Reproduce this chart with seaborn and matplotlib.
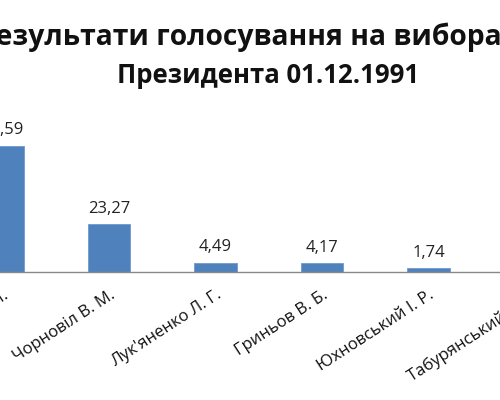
import matplotlib
matplotlib.use("Agg")
import matplotlib.pyplot as plt
import seaborn as sns
import pandas as pd

candidates = ["Кравчук Л. М.", "Чорновіл В. М.", "Лук'яненко Л. Г.",
              "Гриньов В. Б.", "Юхновський І. Р.", "Табурянський Л. Л."]
votes = [61.59, 23.27, 4.49, 4.17, 1.74, 0.57]
title_1 = "Результати голосування на виборах"
title_2 = "Президента 01.12.1991"

sns.set_theme(style="white")
plt.rcParams["font.family"] = ["Open Sans", "DejaVu Sans"]

df = pd.DataFrame({"candidate": candidates, "votes": votes})

# the picture is a crop of a wider chart: axes run past the right edge
x0, x1 = -0.0235, 5.5
step_px = 106.5
fig = plt.figure(figsize=(5, 4), dpi=100)
ax = fig.add_axes([0, 0.32, (x1 - x0) * step_px / 500, 0.43])
sns.barplot(data=df, x="candidate", y="votes", ax=ax, color="#4F81BD",
            saturation=1, width=0.4, edgecolor="#6E9AD0", linewidth=0.6)

for i, v in enumerate(votes):
    ax.annotate(f"{v:.2f}".replace(".", ","), (i, v), xytext=(0, 8.5),
                textcoords="offset points", ha="center", va="baseline",
                fontsize=12, color="#222222")

ax.set_xlim(x0, x1)
ax.set_ylim(0, 84)
ax.set_xlabel(""); ax.set_ylabel("")
ax.set_yticks([])
for s in ["left", "top", "right"]:
    ax.spines[s].set_visible(False)
ax.spines["bottom"].set_color("#888888")
ax.spines["bottom"].set_linewidth(1)
ax.tick_params(axis="x", length=0, pad=11)
plt.setp(ax.get_xticklabels(), rotation=33, ha="right", rotation_mode="anchor",
         fontsize=12, color="#111111")

fig.text(248 / 500, 1 - 45 / 400, title_1, ha="center", va="baseline",
         fontsize=20.3, fontweight="bold", color="#111111")
fig.text(268 / 500, 1 - 83 / 400, title_2, ha="center", va="baseline",
         fontsize=18.5, fontweight="bold", color="#111111")

fig.savefig("out.png", dpi=100)
